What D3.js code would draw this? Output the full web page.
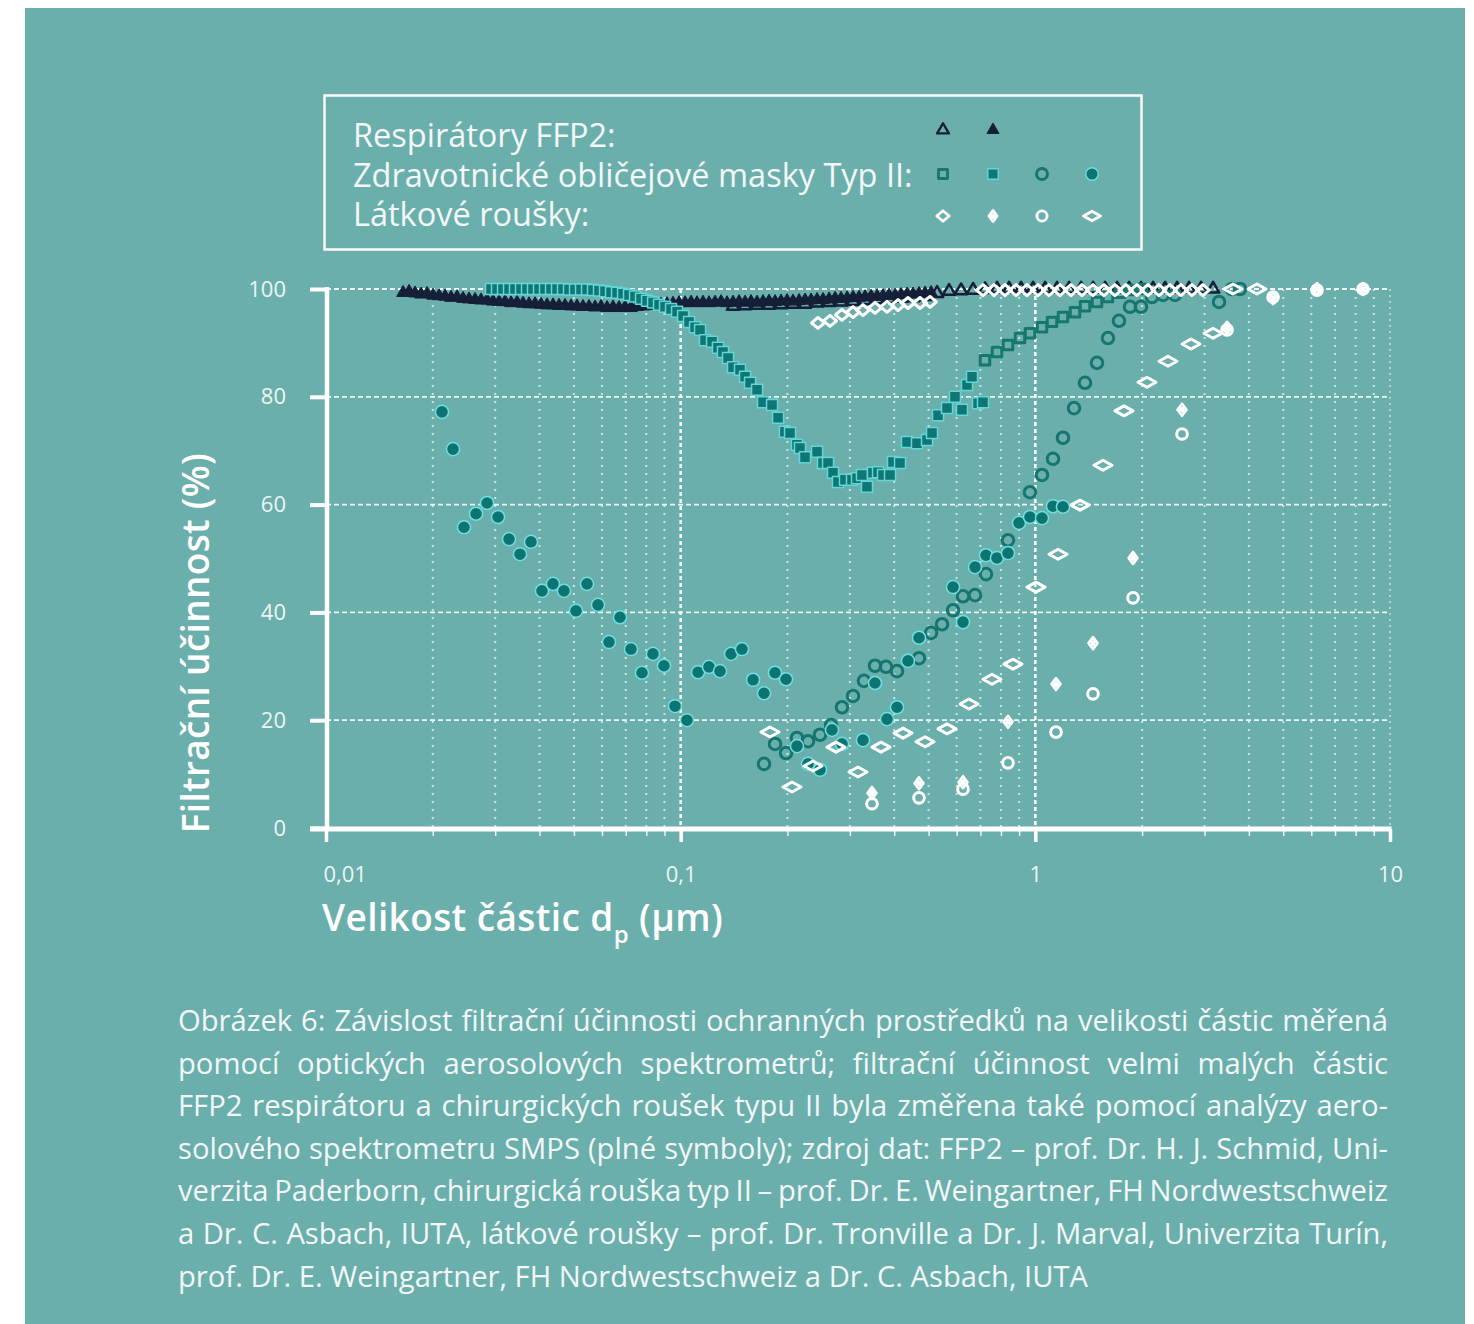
<!DOCTYPE html>
<html>
<head>
<meta charset="utf-8">
<script src="https://cdn.jsdelivr.net/npm/d3@7"></script>
<style>
  body { margin: 0; background: #fff; }
  svg { display: block; }
  text { font-family: "Open Sans", sans-serif; }
</style>
</head>
<body>
<svg id="chart" width="1474" height="1324"></svg>
<script>
// ---- data: [particle size in µm, filtration efficiency in %] ----
const ffp2Smps = [
  [0.01649,99.3],[0.01715,99.5],[0.01783,99.2],[0.01854,99.0],[0.01927,99.1],[0.02004,98.8],[0.02083,98.7],[0.02166,98.6],
  [0.02252,98.4],[0.02342,98.5],[0.02435,98.2],[0.02531,98.1],[0.02632,98.0],[0.02736,97.9],[0.02845,97.9],[0.02958,97.7],
  [0.03075,97.6],[0.03198,97.6],[0.03325,97.4],[0.03457,97.5],[0.03594,97.3],[0.03737,97.2],[0.03885,97.2],[0.04039,97.1],
  [0.04200,97.0],[0.04367,97.0],[0.04540,96.9],[0.04720,96.9],[0.04908,96.8],[0.05103,96.8],[0.05305,96.7],[0.05516,96.7],
  [0.05735,96.6],[0.05963,96.7],[0.06200,96.5],[0.06446,96.6],[0.06702,96.5],[0.06968,96.6],[0.07245,96.5],[0.07533,96.7],
  [0.07832,96.8],[0.08143,96.9],[0.08467,97.0],[0.08803,97.1],[0.09153,97.2],[0.09516,97.3],[0.09894,97.4],[0.1029,97.4],
  [0.1070,97.5],[0.1112,97.4],[0.1156,97.5],[0.1202,97.4],[0.1250,97.5],[0.1300,97.6],[0.1351,97.4],[0.1405,97.5],
  [0.1461,97.6],[0.1519,97.5],[0.1579,97.6],[0.1642,97.5],[0.1707,97.6],[0.1775,97.7],[0.1846,97.6],[0.1919,97.7],
  [0.1995,97.8],[0.2074,97.7],[0.2157,97.8],[0.2243,97.9],[0.2332,97.9],[0.2424,98.0],[0.2521,98.0],[0.2621,98.1],
  [0.2725,98.2],[0.2833,98.2],[0.2946,98.3],[0.3063,98.4],[0.3184,98.4],[0.3311,98.5],[0.3442,98.6],[0.3579,98.6],
  [0.3721,98.7],[0.3869,98.8],[0.4023,98.8],[0.4183,98.9],[0.4349,99.0],[0.4522,99.0],[0.4701,99.1],[0.4888,99.2],[0.5082,99.3]
];
const ffp2Opt = [
  [0.1405,96.8],[0.1519,96.9],[0.1642,97.0],[0.1775,97.0],[0.1919,97.1],[0.2074,97.2],[0.2243,97.2],[0.2424,97.4],
  [0.2621,97.5],[0.2833,97.6],[0.3063,97.7],[0.3311,97.9],[0.3579,98.0],[0.3869,98.1],[0.4183,98.3],[0.4522,98.4],
  [0.4888,98.6],[0.5284,99.2],[0.5712,99.6],[0.6175,99.7],[0.6675,99.8],[0.7216,99.9],[0.7801,100],[0.8433,100],
  [0.9116,100],[0.9855,100],[1.0653,100],[1.1516,100],[1.2449,100],[1.3458,100],[1.4549,100],[1.5728,100],
  [1.7002,100],[1.8380,100],[1.9869,100],[2.1479,100],[2.3219,100],[2.5100,100],[2.7134,100],[2.9333,100],[3.1710,100]
];
const maskSqSmps = [
  [0.02919,100],[0.03035,100],[0.03156,100],[0.03281,100],[0.03411,100],[0.03547,100],[0.03688,100],[0.03834,100],
  [0.03987,100],[0.04145,100],[0.04310,100],[0.04481,100],[0.04659,100],[0.04844,99.9],[0.05037,99.9],[0.05237,99.9],
  [0.05445,99.9],[0.05661,99.8],[0.05886,99.7],[0.06120,99.6],[0.06363,99.4],[0.06616,99.3],[0.06879,99.1],[0.07152,98.9],
  [0.07436,98.6],[0.07732,98.2],[0.08039,97.8],[0.08359,97.5],[0.08691,97.1],[0.09036,96.7],[0.09395,96.3],[0.09768,95.8],
  [0.1016,95.0],[0.1056,93.9],[0.1098,92.9],[0.1134,92.4],[0.1171,90.5],[0.1226,90.2],[0.1274,89.1],[0.1316,88.3],
  [0.1360,87.2],[0.1405,85.5],[0.1470,85.0],[0.1519,83.7],[0.1569,82.6],[0.1642,81.3],[0.1707,79.0],[0.1810,78.5],
  [0.1882,76.1],[0.1968,73.5],[0.2034,73.3],[0.2128,71.1],[0.2170,70.5],[0.2242,68.8],[0.2424,69.8],[0.2520,67.7],
  [0.2603,67.7],[0.2689,65.9],[0.2777,64.2],[0.2906,64.6],[0.3041,64.6],[0.3142,64.9],[0.3245,65.5],[0.3352,63.3],
  [0.3485,65.9],[0.3601,66.0],[0.3720,65.5],[0.3893,65.5],[0.3969,67.9],[0.4154,67.7],[0.4347,71.6],[0.4638,71.4],
  [0.4950,72.0],[0.5113,73.3],[0.5316,76.6],[0.5636,77.9],[0.5936,80.0],[0.6212,77.6],[0.6417,82.2],[0.6629,83.7],
  [0.6892,78.8],[0.7119,79.0]
];
const maskSqOpt = [
  [0.7212,86.8],[0.7796,88.3],[0.8374,89.6],[0.9052,90.9],[0.9659,91.8],[1.0442,92.9],[1.1143,93.9],[1.1966,94.8],
  [1.2937,95.7],[1.3804,96.8],[1.4925,97.6],[1.6025,98.5],[1.7325,99.3],[1.8611,99.8],[1.9986,100]
];
const maskCirSmps = [
  [0.02123,77.2],[0.02281,70.3],[0.02450,55.8],[0.02649,58.3],[0.02845,60.3],[0.03055,57.7],[0.03281,53.6],[0.03524,50.8],
  [0.03784,53.1],[0.04064,44.0],[0.04365,45.3],[0.04688,44.0],[0.05069,40.3],[0.05444,45.3],[0.05847,41.4],[0.06280,34.5],
  [0.06744,39.1],[0.07243,33.2],[0.07779,28.8],[0.08355,32.3],[0.08974,30.1],[0.09638,22.6],[0.1042,20.0],[0.1119,28.9],
  [0.1202,29.9],[0.1291,29.1],[0.1387,32.3],[0.1489,33.2],[0.1600,27.5],[0.1718,25.0],[0.1845,28.8],[0.1982,27.6],
  [0.2128,15.2],[0.2286,11.9],[0.2471,10.8],[0.2671,18.2],[0.2850,15.6],[0.3266,16.3],[0.3531,26.9],[0.3817,20.2],
  [0.4074,22.4],[0.4375,31.0],[0.4699,35.3],[0.5861,44.7],[0.6253,38.2],[0.6759,48.4],[0.7259,50.6],[0.7796,50.1],
  [0.8374,51.0],[0.8994,56.6],[0.9659,57.7],[1.0442,57.5],[1.1216,59.7],[1.1966,59.6]
];
const maskCirOpt = [
  [0.1718,11.9],[0.1845,15.6],[0.1982,13.9],[0.2128,16.7],[0.2286,16.1],[0.2471,17.3],[0.2654,19.1],[0.2850,22.4],
  [0.3061,24.5],[0.3287,27.3],[0.3531,30.1],[0.3793,29.9],[0.4074,29.1],[0.4699,31.5],[0.5080,36.2],[0.5457,37.8],
  [0.5861,40.4],[0.6253,43.0],[0.6759,43.2],[0.7259,47.1],[0.8374,53.4],[0.9659,62.3],[1.0442,65.5],[1.1216,68.5],
  [1.1966,72.4],[1.2853,77.9],[1.3804,82.6],[1.4925,86.3],[1.6025,90.9],[1.7213,94.1],[1.8490,96.7],[1.9857,96.7],
  [2.1327,98.5],[2.2906,98.9],[2.4762,98.9],[3.2955,97.6],[3.5846,100],[3.7757,100]
];
const clothDia = [
  [0.2439,93.7],[0.2637,94.1],[0.2850,95.2],[0.3061,95.7],[0.3266,96.1],[0.3531,96.5],[0.3817,96.7],[0.4101,97.0],
  [0.4375,97.4],[0.4730,97.4],[0.5047,97.6],[0.7119,99.8],[0.7646,99.8],[0.8211,99.8],[0.8819,99.8],[0.9471,99.8],
  [1.0172,99.8],[1.0924,99.8],[1.1732,99.8],[1.2600,99.8],[1.3532,99.8],[1.4533,99.8],[1.5609,99.8],[1.6763,99.8],
  [1.8003,99.8],[1.9335,99.8],[2.0766,99.8],[2.2302,99.8],[2.3952,99.8],[2.5724,99.8],[2.7628,99.8],[2.9672,99.8]
];
const clothDiaSmall = [
  [0.3463,6.5],[0.4699,8.3],[0.6253,8.5],[0.8374,19.7],[1.1436,26.7],[1.4540,34.3],[1.8858,50.1],[2.5917,77.6],
  [3.4709,92.8],[4.679,98.3],[6.226,100],[8.392,100]
];
const clothCir = [
  [0.3463,4.5],[0.4699,5.6],[0.6253,7.2],[0.8374,12.1],[1.1436,17.8],[1.4540,24.9],[1.8858,42.7],[2.5917,73.1],
  [3.4709,92.4],[4.679,98.5],[6.226,99.8],[8.392,100]
];
const clothDiaWide = [
  [0.1786,17.8],[0.2060,7.6],[0.2361,11.5],[0.2741,15.0],[0.3162,10.4],[0.3672,15.0],[0.4236,17.6],[0.4886,16.0],
  [0.5636,18.4],[0.6502,23.0],[0.7547,27.6],[0.8649,30.4],[1.0043,44.7],[1.1587,50.8],[1.3365,59.9],[1.5515,67.3],
  [1.7782,77.4],[2.0645,82.7],[2.3660,86.6],[2.7475,89.8],[3.1696,91.8],[3.6076,100],[4.2168,100]
];

const majorX = [0.01, 0.1, 1, 10];
const minorX = [0.02,0.03,0.04,0.05,0.06,0.07,0.08,0.09,0.2,0.3,0.4,0.5,0.6,0.7,0.8,0.9,2,3,4,5,6,7,8,9];
const xLabels = ['0,01', '0,1', '1', '10'];
const yTicks = [0, 20, 40, 60, 80, 100];

const legendRows = [
  { label: 'Respirátory FFP2:', marks: ['triOpen', 'triFill'] },
  { label: 'Zdravotnické obličejové masky Typ II:', marks: ['sqOpen', 'sqFill', 'cirOpen', 'cirFill'] },
  { label: 'Látkové roušky:', marks: ['diaOpen', 'diaSmall', 'cirWhite', 'diaWide'] }
];

const caption = [
  'Obrázek 6: Závislost filtrační účinnosti ochranných prostředků na velikosti částic měřená',
  'pomocí optických aerosolových spektrometrů; filtrační účinnost velmi malých částic',
  'FFP2 respirátoru a chirurgických roušek typu II byla změřena také pomocí analýzy aero-',
  'solového spektrometru SMPS (plné symboly); zdroj dat: FFP2 – prof. Dr. H. J. Schmid, Uni-',
  'verzita Paderborn, chirurgická rouška typ II – prof. Dr. E. Weingartner, FH Nordwestschweiz',
  'a Dr. C. Asbach, IUTA, látkové roušky – prof. Dr. Tronville a Dr. J. Marval, Univerzita Turín,',
  'prof. Dr. E. Weingartner, FH Nordwestschweiz a Dr. C. Asbach, IUTA'
];

// ---- drawing ----
const svg = d3.select('#chart');
const navy = '#151f38';

svg.append('rect')
  .attr('x', 25).attr('y', 8)
  .attr('width', 1440).attr('height', 1316)
  .style('fill', '#6aafac');

const x = d3.scaleLog().domain([0.01, 10]).range([326, 1390]);
const y = d3.scaleLinear().domain([0, 100]).range([828, 289]);

// grid
const grid = svg.append('g');
grid.selectAll('.vminor').data(minorX).join('line')
  .attr('x1', d => x(d)).attr('x2', d => x(d))
  .attr('y1', y(100)).attr('y2', y(0))
  .style('stroke', 'rgba(255,255,255,0.65)')
  .style('stroke-width', 2)
  .style('stroke-dasharray', '2,6');
grid.selectAll('.vmajor').data([0.1, 1]).join('line')
  .attr('x1', d => x(d)).attr('x2', d => x(d))
  .attr('y1', y(100)).attr('y2', y(0))
  .style('stroke', '#fff')
  .style('stroke-width', 2.5)
  .style('stroke-dasharray', '4,3');
grid.append('line')
  .attr('x1', x(10)).attr('x2', x(10))
  .attr('y1', y(100)).attr('y2', y(0))
  .style('stroke', 'rgba(255,255,255,0.6)')
  .style('stroke-width', 1.5)
  .style('stroke-dasharray', '2,4');
grid.selectAll('.h').data(yTicks.slice(1)).join('line')
  .attr('x1', x(0.01)).attr('x2', x(10))
  .attr('y1', d => y(d)).attr('y2', d => y(d))
  .style('stroke', 'rgba(255,255,255,0.9)')
  .style('stroke-width', 1.8)
  .style('stroke-dasharray', '5,3');

// axes
const xAxis = svg.append('g')
  .attr('transform', `translate(0,${y(0) + 1})`)
  .call(d3.axisBottom(x).tickValues(majorX).tickSize(13).tickPadding(24)
    .tickFormat((d, i) => xLabels[i]));
const xMinor = svg.append('g')
  .attr('transform', `translate(0,${y(0) + 1})`)
  .call(d3.axisBottom(x).tickValues(minorX).tickSize(7).tickFormat(''));
const yAxis = svg.append('g')
  .attr('transform', `translate(${x(0.01) + 1},0)`)
  .call(d3.axisLeft(y).tickValues(yTicks).tickSize(17).tickPadding(24));

[xAxis, xMinor, yAxis].forEach(a => a.select('.domain').remove());
xAxis.selectAll('.tick line').style('stroke', '#fff').style('stroke-width', 3.5);
xMinor.selectAll('.tick line').style('stroke', 'rgba(255,255,255,0.85)').style('stroke-width', 1.5);
yAxis.selectAll('.tick line').style('stroke', '#fff').style('stroke-width', 4);
xAxis.selectAll('.tick text')
  .style('font-size', '22px').style('fill', '#eef5f4')
  .style('font-family', '"Open Sans", sans-serif')
  .attr('text-anchor', (d, i) => i === 0 ? 'start' : 'middle')
  .attr('dx', (d, i) => i === 0 ? -3 : 0);
yAxis.selectAll('.tick text')
  .style('font-size', '22px').style('fill', '#eef5f4')
  .style('font-family', '"Open Sans", sans-serif');

svg.append('line')
  .attr('x1', x(0.01) - 16).attr('x2', x(10) + 1.5)
  .attr('y1', y(0) + 1).attr('y2', y(0) + 1)
  .style('stroke', '#fff').style('stroke-width', 5);
svg.append('line')
  .attr('x1', x(0.01) + 1).attr('x2', x(0.01) + 1)
  .attr('y1', y(100) - 2).attr('y2', y(0) + 3)
  .style('stroke', '#fff').style('stroke-width', 4.5);

// axis titles
const xt = svg.append('text')
  .attr('x', 322).attr('y', 931)
  .style('font-size', '37px').style('font-weight', 600).style('fill', '#fff')
  .style('letter-spacing', '0.4px');
xt.append('tspan').text('Velikost částic d');
xt.append('tspan').text('p').attr('dy', 12).style('font-size', '24px');
xt.append('tspan').text(' (µm)').attr('dy', -12);

svg.append('text')
  .attr('transform', 'translate(209,643) rotate(-90)')
  .attr('text-anchor', 'middle')
  .style('font-size', '37px').style('font-weight', 600).style('fill', '#fff')
  .style('letter-spacing', '0.3px')
  .text('Filtrační účinnost (%)');

// markers
const dia = (w, h) => `M0,${-h}L${w},0L0,${h}L${-w},0Z`;
const markers = {
  triFill: { d: d3.symbol(d3.symbolTriangle, 70)(), fill: navy, stroke: navy, sw: 1 },
  triOpen: { d: d3.symbol(d3.symbolTriangle, 66)(), fill: 'none', stroke: navy, sw: 2.5 },
  sqOpen: { d: d3.symbol(d3.symbolSquare, 90)(), fill: 'none', stroke: '#16776f', sw: 3 },
  sqFill: { d: d3.symbol(d3.symbolSquare, 121)(), fill: '#0f7674', stroke: '#63d6d8', sw: 1.5 },
  cirOpen: { d: d3.symbol(d3.symbolCircle, 105)(), fill: 'none', stroke: '#157570', sw: 3 },
  cirFill: { d: d3.symbol(d3.symbolCircle, 135)(), fill: '#0e7471', stroke: '#6fe0e0', sw: 1.5 },
  diaOpen: { d: dia(6.5, 5.5), fill: 'none', stroke: '#fff', sw: 3 },
  diaSmall: { d: dia(4.5, 6) + dia(1.3, 1.6), fill: 'none', stroke: '#fff', sw: 2.6 },
  cirWhite: { d: d3.symbol(d3.symbolCircle, 90)(), fill: 'none', stroke: '#fff', sw: 3 },
  diaWide: { d: dia(9, 5), fill: 'none', stroke: '#fff', sw: 3 }
};

function plot(data, type) {
  const m = markers[type];
  svg.append('g').selectAll('path').data(data).join('path')
    .attr('d', m.d)
    .attr('transform', d => `translate(${x(d[0])},${y(d[1])})`)
    .style('fill', m.fill)
    .style('stroke', m.stroke)
    .style('stroke-width', m.sw)
    .style('stroke-linejoin', 'round');
}

plot(ffp2Smps, 'triFill');
plot(ffp2Opt, 'triOpen');
plot(maskSqOpt, 'sqOpen');
plot(maskSqSmps, 'sqFill');
plot(maskCirOpt, 'cirOpen');
plot(maskCirSmps, 'cirFill');
plot(clothDiaWide, 'diaWide');
plot(clothCir, 'cirWhite');
plot(clothDiaSmall, 'diaSmall');
plot(clothDia, 'diaOpen');

// legend
const lg = svg.append('g');
lg.append('rect')
  .attr('x', 324.5).attr('y', 95.5)
  .attr('width', 817).attr('height', 154)
  .style('fill', 'none').style('stroke', '#fff').style('stroke-width', 2.5);
const rowY = [147, 187, 226];
const markY = [130, 174, 216];
const markX = [943, 993, 1042, 1092];
legendRows.forEach((r, i) => {
  lg.append('text')
    .attr('x', 353).attr('y', rowY[i])
    .style('font-size', '32.5px').style('fill', '#f4f8f8')
    .text(r.label);
  r.marks.forEach((t, j) => {
    const m = markers[t];
    lg.append('path')
      .attr('d', m.d)
      .attr('transform', `translate(${markX[j]},${markY[i]}) scale(0.95)`)
      .style('fill', m.fill).style('stroke', m.stroke)
      .style('stroke-width', m.sw).style('stroke-linejoin', 'round');
  });
});

// caption, justified
const capLeft = 178, capRight = 1388, capTop = 1031, capStep = 42.6;
const cap = svg.append('g').style('font-size', '29.2px').style('fill', '#f3f7f7');
caption.forEach((line, i) => {
  const t = cap.append('text').attr('y', capTop + i * capStep);
  if (i === caption.length - 1) {
    t.attr('x', capLeft).text(line);
    return;
  }
  const words = line.split(' ');
  const spans = words.map(w => t.append('tspan').text(w));
  const widths = spans.map(s => s.node().getComputedTextLength());
  const gap = (capRight - capLeft - d3.sum(widths)) / (words.length - 1);
  let cx = capLeft;
  spans.forEach((s, k) => {
    s.attr('x', cx);
    cx += widths[k] + gap;
  });
});
</script>
</body>
</html>
